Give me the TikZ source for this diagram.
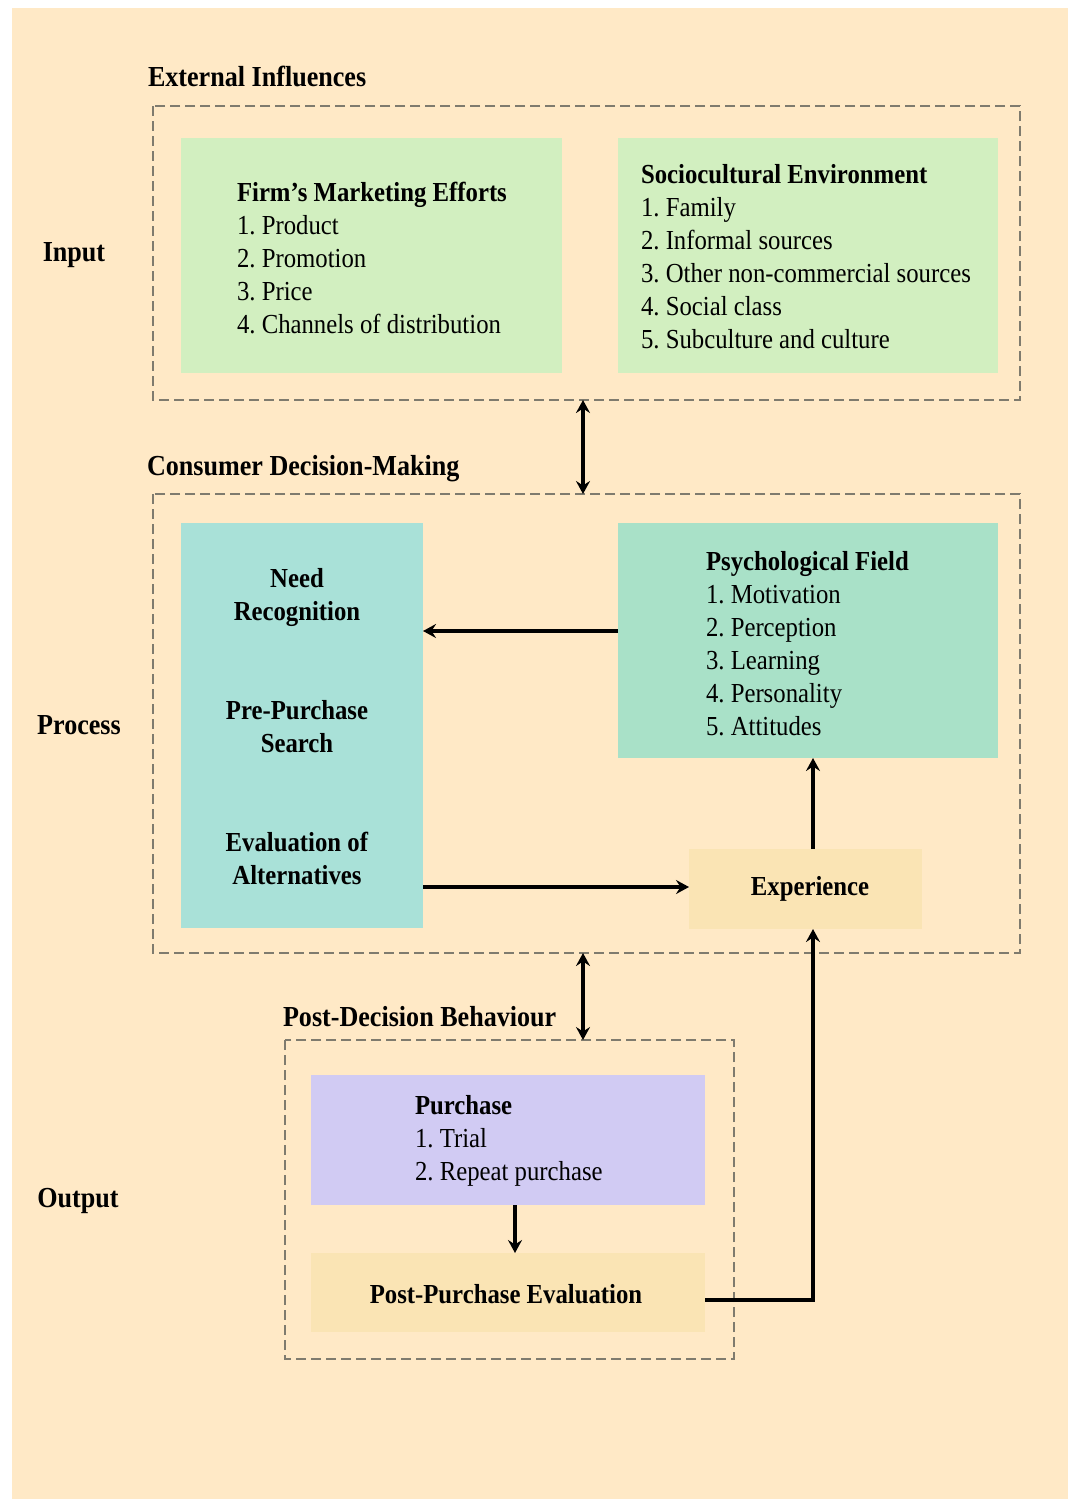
\documentclass[tikz,border=0pt]{standalone}
\usepackage{fontspec}
\setmainfont[FakeStretch=0.9]{Liberation Serif}
\usetikzlibrary{arrows.meta}

\definecolor{pagebg}{HTML}{FFE9C6}
\definecolor{inputgreen}{HTML}{D2EFC0}
\definecolor{stepteal}{HTML}{A9E1D8}
\definecolor{psychgreen}{HTML}{A9E1C8}
\definecolor{sand}{HTML}{FAE4B4}
\definecolor{lavender}{HTML}{D1CBF3}
\definecolor{dashgray}{HTML}{7F7B6E}

\newcommand{\boxfont}{\fontsize{27.5}{33}\selectfont\frenchspacing}
\newcommand{\headfont}{\fontsize{29}{33}\selectfont\bfseries}

\tikzset{
  panel/.style={draw=none, inner sep=0pt, outer sep=0pt},
  group/.style={draw=dashgray, line width=2.6pt, dash pattern=on 10pt off 5pt},
  txt/.style={inner sep=0pt, outer sep=0pt, font=\boxfont},
  head/.style={inner sep=0pt, outer sep=0pt, font=\headfont},
  link/.style={line width=3.2pt, -{Stealth[length=13pt,width=14pt,inset=4.5pt]}},
  dlink/.style={line width=3.2pt, {Stealth[length=13pt,width=14pt,inset=4.5pt]}-{Stealth[length=13pt,width=14pt,inset=4.5pt]}},
}

\begin{document}
\begin{tikzpicture}[x=1pt,y=-1pt]
  \useasboundingbox (0,0) rectangle (1068,1499);
  \fill[white] (0,0) rectangle (1068,1499);
  \fill[pagebg] (12,8) rectangle (1068,1499);

  % dashed groups
  \draw[group] (153,106) rectangle (1020,400);
  \draw[group] (153,494) rectangle (1020,953);
  \draw[group] (285,1040) rectangle (734,1359);

  \coordinate (extS) at (583,400);
  \coordinate (cdmN) at (583,494);
  \coordinate (cdmS) at (583,953);
  \coordinate (pdbN) at (583,1040);

  % group titles and stage labels
  \node[head, anchor=base west] (extT) at (148,86) {External Influences};
  \node[head, anchor=base west] (cdmT) at (147,475) {Consumer Decision-Making};
  \node[head, anchor=base west] (pdbT) at (283,1026) {Post-Decision Behaviour};
  \node[head, anchor=base] (inL) at (74,261) {Input};
  \node[head, anchor=base] (prL) at (79,734) {Process};
  \node[head, anchor=base] (outL) at (78,1207) {Output};

  % input boxes
  \fill[inputgreen] (181,138) rectangle (562,373);
  \fill[inputgreen] (618,138) rectangle (998,373);
  \node[txt, anchor=base west] (firm) at (237,201) {\begin{tabular}[t]{@{}l@{}}
    \textbf{Firm’s Marketing Efforts}\\
    1. Product\\ 2. Promotion\\ 3. Price\\ 4. Channels of distribution
  \end{tabular}};
  \node[txt, anchor=base west] (socio) at (641,183) {\begin{tabular}[t]{@{}l@{}}
    \textbf{Sociocultural Environment}\\
    1. Family\\ 2. Informal sources\\ 3. Other non-commercial sources\\
    4. Social class\\ 5. Subculture and culture
  \end{tabular}};

  % process boxes
  \node[panel, fill=stepteal, anchor=north west, minimum width=242pt, minimum height=405pt] (steps) at (181,523) {};
  \node[panel, fill=psychgreen, anchor=north west, minimum width=380pt, minimum height=235pt] (psych) at (618,523) {};
  \node[panel, fill=sand, anchor=north west, minimum width=233pt, minimum height=80pt] (exp) at (689,849) {};

  \node[txt, anchor=base] (need) at (297,587) {\begin{tabular}[t]{@{}c@{}}
    \textbf{Need}\\ \textbf{Recognition}\end{tabular}};
  \node[txt, anchor=base] (search) at (297,719) {\begin{tabular}[t]{@{}c@{}}
    \textbf{Pre-Purchase}\\ \textbf{Search}\end{tabular}};
  \node[txt, anchor=base] (evalalt) at (297,851) {\begin{tabular}[t]{@{}c@{}}
    \textbf{Evaluation of}\\ \textbf{Alternatives}\end{tabular}};
  \node[txt, anchor=base west] (psychT) at (706,570) {\begin{tabular}[t]{@{}l@{}}
    \textbf{Psychological Field}\\
    1. Motivation\\ 2. Perception\\ 3. Learning\\ 4. Personality\\ 5. Attitudes
  \end{tabular}};
  \node[txt, anchor=base] (expT) at (810,895) {\textbf{Experience}};

  % output boxes
  \node[panel, fill=lavender, anchor=north west, minimum width=394pt, minimum height=130pt] (purch) at (311,1075) {};
  \node[panel, fill=sand, anchor=north west, minimum width=394pt, minimum height=79pt] (ppe) at (311,1253) {};
  \node[txt, anchor=base west] (purchT) at (415,1114) {\begin{tabular}[t]{@{}l@{}}
    \textbf{Purchase}\\ 1. Trial\\ 2. Repeat purchase
  \end{tabular}};
  \node[txt, anchor=base] (ppeT) at (506,1303) {\textbf{Post-Purchase Evaluation}};

  % connectors
  \draw[dlink] (extS) -- (cdmN);
  \draw[dlink] (cdmS) -- (pdbN);
  \draw[link] (psych.west |- 0,631) -- (steps.east |- 0,631);
  \draw[link] (steps.east |- 0,887) -- (exp.west |- 0,887);
  \draw[link] (exp.north -| 813,0) -- (psych.south -| 813,0);
  \draw[link] (purch.south -| 515,0) -- (ppe.north -| 515,0);
  \draw[link] (ppe.east |- 0,1300) -| (exp.south -| 813,0);
\end{tikzpicture}
\end{document}
